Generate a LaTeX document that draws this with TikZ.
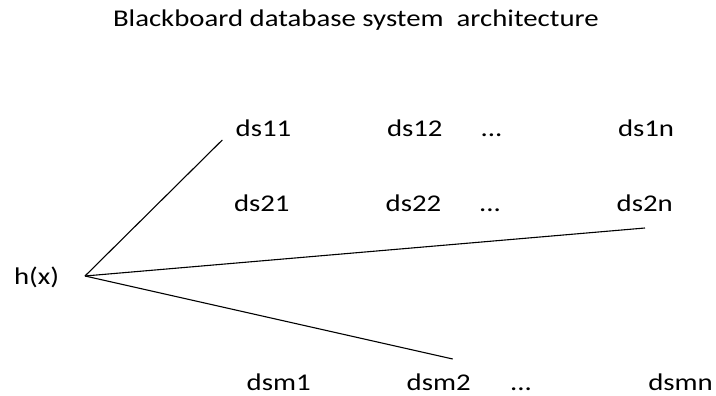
\documentclass[tikz,border=0pt]{standalone}
\usepackage{fontspec}
\setmainfont{Carlito}[FakeStretch=1.2]
\begin{document}
\begin{tikzpicture}[x=1pt,y=-1pt,
  lbl/.style={anchor=base west,inner sep=0pt,outer sep=0pt,text=black,font=\fontsize{24}{28}\selectfont},
  conn/.style={draw=black,line width=1.1pt}]
\useasboundingbox (0,0) rectangle (716,396);
\node[lbl] (title) at (113,26.7) {Blackboard database system\ \ architecture};
\node[lbl] (ds11) at (235.7,136.7) {ds11};
\node[lbl] (ds12) at (387,136.7) {ds12};
\node[lbl] (d1) at (480.7,136.7) {...};
\node[lbl] (ds1n) at (618,136.7) {ds1n};
\node[lbl] (ds21) at (234,211.7) {ds21};
\node[lbl] (ds22) at (385.7,211.7) {ds22};
\node[lbl] (d2) at (479,211.7) {...};
\node[lbl] (ds2n) at (616.7,211.7) {ds2n};
\node[lbl] (hx) at (14,284.5) {h(x)};
\node[lbl] (dsm1) at (246.7,390) {dsm1};
\node[lbl] (dsm2) at (406.7,390) {dsm2};
\node[lbl] (dm) at (510,390) {...};
\node[lbl] (dsmn) at (648.3,390) {dsmn};
\coordinate (o) at (85,276);
\coordinate (e1) at (222.3,140);
\coordinate (e2) at (645,228);
\coordinate (e3) at (452.7,359);
\draw[conn] (o) -- (e1);
\draw[conn] (o) -- (e2);
\draw[conn] (o) -- (e3);
\end{tikzpicture}
\end{document}
